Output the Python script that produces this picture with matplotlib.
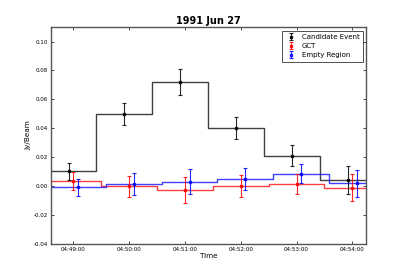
import datetime as dt
import numpy as np
import matplotlib
matplotlib.use('Agg')
import matplotlib.pyplot as plt
import matplotlib.dates as mdates

# ------------------------------- Data --------------------------------
day = dt.datetime(1991, 6, 27, 4, 0, 0)
minutes = [49, 50, 51, 52, 53, 54]

cand_y = [0.0103, 0.0497, 0.0720, 0.0400, 0.0211, 0.0042]
cand_err = [0.0060, 0.0075, 0.0088, 0.0076, 0.0072, 0.0095]

gct_y = [0.0037, -0.0002, -0.0027, 0.0000, 0.0012, -0.0010]
gct_err = [0.0062, 0.0075, 0.0090, 0.0078, 0.0070, 0.0095]

empty_y = [-0.0007, 0.0012, 0.0031, 0.0048, 0.0087, 0.0018]
empty_err = [0.0059, 0.0076, 0.0087, 0.0077, 0.0067, 0.0095]

yticks = [-0.04, -0.02, 0.00, 0.02, 0.04, 0.06, 0.08, 0.10]

# ------------------------------- Plot --------------------------------
fig = plt.figure(figsize=(4.07, 2.71), dpi=100)
ax = fig.add_axes([0.125, 0.1, 0.775, 0.8])

xmin = mdates.date2num(day + dt.timedelta(minutes=48, seconds=36))
xmax = mdates.date2num(day + dt.timedelta(minutes=54, seconds=15))


def times(offset):
    return np.array([mdates.date2num(day + dt.timedelta(minutes=m, seconds=offset)) for m in minutes])


def stairs(x, y, color):
    mids = (x[1:] + x[:-1]) / 2
    edges = np.concatenate([[xmin], mids, [xmax]])
    vals = list(y) + [y[-1]]
    ax.step(edges, vals, where='post', color=color, lw=1.0, alpha=0.75)


series = [
    (times(-5), cand_y, cand_err, 'k', 'Candidate Event'),
    (times(0), gct_y, gct_err, 'r', 'GCT'),
    (times(5), empty_y, empty_err, 'b', 'Empty Region'),
]

for x, y, e, c, lab in series:
    stairs(x, y, c)
for x, y, e, c, lab in series:
    ax.errorbar(x, y, yerr=e, fmt='s', color=c, ms=2.0, mec=c, capsize=1.5,
                elinewidth=0.8, capthick=0.8, label=lab, alpha=0.85)

ax.set_xlim(xmin, xmax)
ax.set_ylim(-0.04, 0.11)
ax.set_yticks(yticks)
ax.yaxis.set_major_formatter(matplotlib.ticker.FormatStrFormatter('%.2f'))
ax.xaxis.set_major_locator(mdates.MinuteLocator())
ax.xaxis.set_major_formatter(mdates.DateFormatter('%H:%M:%S'))

ax.tick_params(direction='in', top=True, right=True, labelsize=4.1, length=2.5, width=0.5, pad=2)
for s in ax.spines.values():
    s.set_color('#555555')
    s.set_linewidth(1.0)

ax.set_title('1991 Jun 27', fontsize=7, fontweight='bold', pad=2)
ax.set_xlabel('Time', fontsize=5.2, labelpad=1)
ax.set_ylabel('Jy/Beam', fontsize=5.2, labelpad=2)

leg = ax.legend(loc='upper right', fontsize=5, numpoints=1, fancybox=False,
                handlelength=1.5, borderpad=0.5, labelspacing=0.45)
leg.get_frame().set_edgecolor('k')
leg.get_frame().set_linewidth(0.6)

plt.savefig('out.png', dpi=100)
